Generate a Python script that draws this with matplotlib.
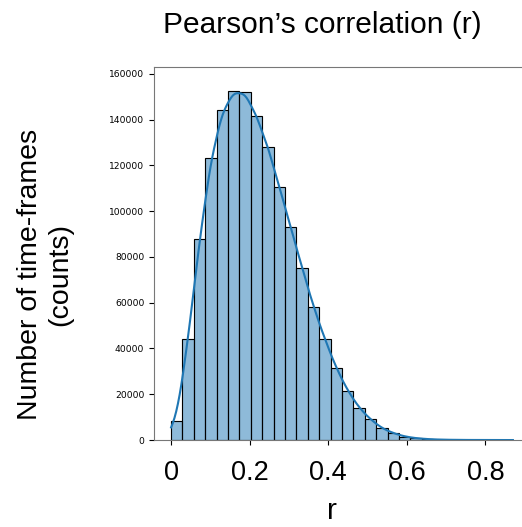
import matplotlib
matplotlib.use('Agg')
import matplotlib.pyplot as plt
import numpy as np
import pandas as pd
import seaborn as sns

# histogram of Pearson's r, 30 bins between 0 and 0.87
bin_edges = np.linspace(0, 0.87, 31)
counts = [8300, 44000, 87700, 123100, 144000, 152600, 152100, 141700, 128200, 110700,
          92900, 75300, 58100, 44000, 31300, 21500, 14000, 9000, 5100, 3000,
          1500, 800, 400, 200, 100, 50, 25, 10, 5, 2]
centers = (bin_edges[:-1] + bin_edges[1:]) / 2
df = pd.DataFrame({'r': centers, 'n': counts})

fig = plt.figure(figsize=(5.22, 5.27), dpi=100)
ax = fig.add_axes([0.295, 0.165, 0.7203, 0.708])

sns.histplot(data=df, x='r', weights='n', bins=30, binrange=(0, 0.87), kde=True,
             kde_kws={'bw_adjust': 0.27, 'cut': 1, 'clip': (0, 0.87)}, ax=ax)

ax.set_xlim(-0.0435, 0.9135)
ax.set_ylim(0, 163000)
ax.set_xticks([0, 0.2, 0.4, 0.6, 0.8])
ax.set_xticklabels(['0', '0.2', '0.4', '0.6', '0.8'], family='Liberation Sans', fontsize=19.5)
ax.tick_params(axis='x', pad=11)
ax.tick_params(axis='y', labelsize=6.6)
ax.set_xlabel('')
ax.set_ylabel('')
for s in ax.spines.values():
    s.set_color('#777777')

sans = 'Liberation Sans'
fig.text(322 / 522, 1 - 25 / 527, 'Pearson\u2019s correlation (r)', ha='center', va='center',
         fontsize=21.5, family=sans)
fig.text(332 / 522, 1 - 511 / 527, 'r', ha='center', va='center', fontsize=21.5, family=sans)
fig.text(45 / 522, 1 - 274 / 527, 'Number of time-frames\n(counts)', ha='center', va='center',
         rotation=90, fontsize=20.5, family=sans)

plt.savefig('out.png', dpi=100)
plt.close()
